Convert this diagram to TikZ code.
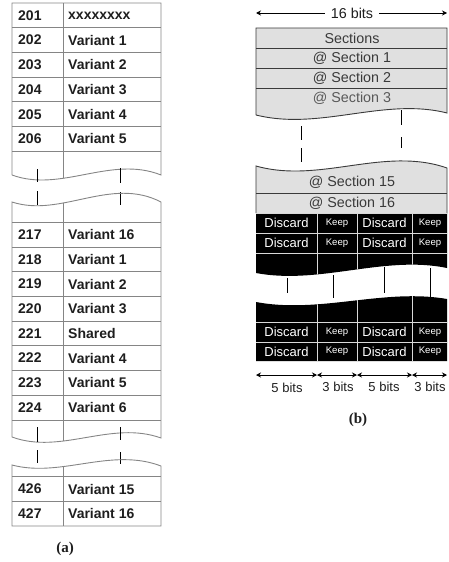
\documentclass[tikz,border=0pt]{standalone}
\usepackage{fontspec}
\setmainfont{Liberation Sans}
\newfontfamily\capfont{Liberation Serif}
\usetikzlibrary{arrows.meta}
\definecolor{tgray}{HTML}{858585}
\definecolor{bgray}{HTML}{E0E0E0}
\definecolor{bline}{HTML}{3A3A3A}
\definecolor{ttext}{HTML}{1E1E1E}
\begin{document}
\begin{tikzpicture}[x=1pt,y=-1pt,
  tline/.style={draw=tgray,line width=0.9pt},
  bxline/.style={draw=bline,line width=0.9pt},
  wline/.style={draw=white!85!black,line width=0.9pt},
  tick/.style={draw=black,line width=0.9pt},
  num/.style={font=\fontsize{14}{14}\selectfont\bfseries,anchor=west,text=ttext,inner sep=0pt},
  sect/.style={font=\fontsize{14.3}{14}\selectfont,text=bline,inner sep=0pt},
  disc/.style={font=\fontsize{13}{13}\selectfont,text=white,inner sep=0pt},
  keep/.style={font=\fontsize{9.6}{9.6}\selectfont,text=white,inner sep=0pt},
  bits/.style={font=\fontsize{13}{13}\selectfont,text=ttext,inner sep=0pt},
  figcap/.style={font=\fontsize{15}{15}\selectfont\capfont\bfseries,text=ttext,inner sep=0pt},
  dim/.style={draw=black,line width=0.8pt,{Stealth[length=5pt,width=5pt]}-{Stealth[length=5pt,width=5pt]}}]
\useasboundingbox (0,0) rectangle (448,562);

% ---------------- (a) left table ----------------
% segment 1
\begin{scope}
\clip (12,3) -- (161,3) -- (161,175) .. controls (111,155) and (61,193) .. (12,175) -- cycle;
\foreach \y in {27.7,52.4,77.1,101.8,126.5,151.2} \draw[tline] (12,\y) -- (161,\y);
\draw[tline] (63,3) -- (63,200);
\end{scope}
\draw[tline] (12,175) -- (12,3) -- (161,3) -- (161,175) .. controls (111,155) and (61,193) .. (12,175);
\foreach \n/\v/\y in {201/xxxxxxxx/15.4,202/Variant 1/40,203/Variant 2/64.7,204/Variant 3/89.4,205/Variant 4/114.2,206/Variant 5/138.9}{
  \node[num] (n\n) at (18,\y) {\n};
  \node[num] (v\n) at (68,\y) {\v};
}
% gap 1 ticks
\draw[tick] (37,169) -- (37,182);
\draw[tick] (37,191) -- (37,205);
\draw[tick] (120,168) -- (120,183);
\draw[tick] (120,192) -- (120,205);

% segment 2
\begin{scope}
\clip (12,202) .. controls (61,218) and (111,176) .. (161,202) -- (161,438) .. controls (111,420) and (61,455) .. (12,437) -- cycle;
\foreach \y in {222.3,247,271.7,296.4,321,345.8,370.5,395.2,420} \draw[tline] (12,\y) -- (161,\y);
\draw[tline] (63,190) -- (63,460);
\end{scope}
\draw[tline] (12,202) .. controls (61,218) and (111,176) .. (161,202) -- (161,438) .. controls (111,420) and (61,455) .. (12,437) -- cycle;
\foreach \n/\v/\y in {217/Variant 16/234.6,218/Variant 1/259.3,219/Variant 2/284,220/Variant 3/308.7,221/Shared/333.4,222/Variant 4/358.1,223/Variant 5/382.8,224/Variant 6/407.5}{
  \node[num] (n\n) at (18,\y) {\n};
  \node[num] (v\n) at (68,\y) {\v};
}
% gap 2 ticks
\draw[tick] (37,427) -- (37,442);
\draw[tick] (37,450) -- (37,463);
\draw[tick] (120,427) -- (120,440);
\draw[tick] (120,452) -- (120,464);

% segment 3
\begin{scope}
\clip (12,465) .. controls (61,478) and (111,447) .. (161,466) -- (161,526) -- (12,526) -- cycle;
\draw[tline] (12,476.7) -- (161,476.7);
\draw[tline] (12,501.3) -- (161,501.3);
\draw[tline] (63,450) -- (63,526);
\end{scope}
\draw[tline] (12,465) .. controls (61,478) and (111,447) .. (161,466) -- (161,526) -- (12,526) -- cycle;
\node[num] (n426) at (18,489) {426};
\node[num] (v426) at (68,489) {Variant 15};
\node[num] (n427) at (18,513.7) {427};
\node[num] (v427) at (68,513.7) {Variant 16};

\node[figcap] (capa) at (65,549) {(a)};

% ---------------- (b) right figure ----------------
\coordinate (ta) at (256,13);
\coordinate (tb) at (447,13);
\draw[dim] (ta) -- (tb);
\node[sect,fill=white,inner xsep=6pt,inner ysep=2pt,text=ttext] (sixteen) at (352,13) {16 bits};

% segment 1
\fill[bgray] (256,28) -- (447,28) -- (447,113) .. controls (384,97) and (320,131) .. (256,115) -- cycle;
\foreach \y in {48,68,88} \draw[bxline] (256,\y) -- (447,\y);
\draw[bxline] (256,115) -- (256,28) -- (447,28) -- (447,113) .. controls (384,97) and (320,131) .. (256,115);
\node[sect] (s0) at (352,38) {Sections};
\node[sect] (s1) at (352,58) {@ Section 1};
\node[sect] (s2) at (352,78) {@ Section 2};
\node[sect,text=black!65] (s3) at (352,98) {@ Section 3};

% ticks
\draw[tick] (301,126) -- (301,140);
\draw[tick] (301,148) -- (301,162);
\draw[tick] (401,110) -- (401,125);
\draw[tick] (401,137) -- (401,148);

% segment 2
\fill[bgray] (256,166) .. controls (320,184) and (384,146) .. (447,168) -- (447,213) -- (256,213) -- cycle;
\draw[bxline] (256,193) -- (447,193);
\draw[bxline] (256,213) -- (256,166) .. controls (320,184) and (384,146) .. (447,168) -- (447,213);
\fill[black] (256,213) -- (447,213) -- (447,268) .. controls (384,255) and (320,285) .. (256,273) -- cycle;
\begin{scope}
\clip (256,213) -- (447,213) -- (447,268) .. controls (384,255) and (320,285) .. (256,273) -- cycle;
\draw[wline] (256,213.5) -- (447,213.5);
\draw[wline] (256,233) -- (447,233);
\draw[wline] (256,253) -- (447,253);
\foreach \x in {317,357,412} \draw[wline] (\x,213) -- (\x,290);
\end{scope}
\node[sect] (s15) at (352,182) {@ Section 15};
\node[sect] (s16) at (352,203) {@ Section 16};
\node[disc] (d1a) at (286.5,223) {Discard};
\node[keep] (k1a) at (337,223) {Keep};
\node[disc] (d1b) at (384.5,223) {Discard};
\node[keep] (k1b) at (430,223) {Keep};
\node[disc] (d2a) at (286.5,243) {Discard};
\node[keep] (k2a) at (337,243) {Keep};
\node[disc] (d2b) at (384.5,243) {Discard};
\node[keep] (k2b) at (430,243) {Keep};

% ticks in black gap
\draw[tick] (287,278) -- (287,293);
\draw[tick] (333,275) -- (333,298);
\draw[tick] (384,267) -- (384,293);
\draw[tick] (430,268) -- (430,297);

% segment 3
\fill[black] (256,302) .. controls (320,314) and (384,288) .. (447,299) -- (447,361) -- (256,361) -- cycle;
\begin{scope}
\clip (256,302) .. controls (320,314) and (384,288) .. (447,299) -- (447,361) -- (256,361) -- cycle;
\draw[wline] (256,322) -- (447,322);
\draw[wline] (256,342) -- (447,342);
\foreach \x in {317,357,412} \draw[wline] (\x,285) -- (\x,361);
\end{scope}
\node[disc] (d3a) at (286.5,332) {Discard};
\node[keep] (k3a) at (337,332) {Keep};
\node[disc] (d3b) at (384.5,332) {Discard};
\node[keep] (k3b) at (430,332) {Keep};
\node[disc] (d4a) at (286.5,351.5) {Discard};
\node[keep] (k4a) at (337,351.5) {Keep};
\node[disc] (d4b) at (384.5,351.5) {Discard};
\node[keep] (k4b) at (430,351.5) {Keep};

% bit arrows
\coordinate (b0) at (256,375);
\coordinate (b1) at (317,375);
\coordinate (b2) at (357,375);
\coordinate (b3) at (412,375);
\coordinate (b4) at (447,375);
\draw[dim] (b0) -- (b1);
\draw[dim] (b1) -- (b2);
\draw[dim] (b2) -- (b3);
\draw[dim] (b3) -- (b4);
\node[bits] (l1) at (287,388) {5 bits};
\node[bits] (l2) at (338,387) {3 bits};
\node[bits] (l3) at (384,387) {5 bits};
\node[bits] (l4) at (430,387) {3 bits};

\node[figcap] (capb) at (358,420) {(b)};
\end{tikzpicture}
\end{document}
